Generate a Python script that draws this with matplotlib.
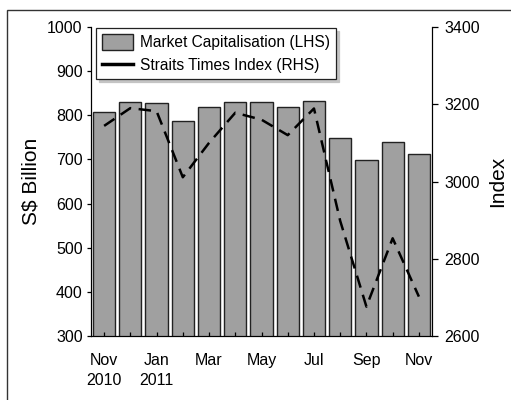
import matplotlib
matplotlib.use("Agg")
import matplotlib.pyplot as plt
from matplotlib.patches import Rectangle
from matplotlib.lines import Line2D
import numpy as np

plt.rcParams['font.family'] = ['Liberation Sans', 'DejaVu Sans']

months = ["Nov", "Dec", "Jan", "Feb", "Mar", "Apr", "May", "Jun", "Jul", "Aug", "Sep", "Oct", "Nov"]
tick_labels = ["Nov\n2010", "", "Jan\n2011", "", "Mar", "", "May", "", "Jul", "", "Sep", "", "Nov"]
market_cap = [807, 829, 827, 786, 818, 831, 829, 819, 833, 749, 699, 740, 712]
sti = [3144, 3190, 3182, 3011, 3100, 3178, 3160, 3120, 3189, 2898, 2676, 2853, 2702]

W, H = 511, 400
fig = plt.figure(figsize=(W / 100, H / 100), dpi=100)

# outer frame
fig.patches.append(Rectangle((7 / W, -0.1), 1.2, (H - 10) / H + 0.1, transform=fig.transFigure,
                             fill=False, edgecolor='#333333', linewidth=1.0))

ax = fig.add_axes([91 / W, (H - 336) / H, (432 - 91) / W, (336 - 27) / H])
x = np.arange(len(months))
bars = ax.bar(x, market_cap, width=0.85, color='#a0a0a0', edgecolor='#222222', linewidth=1.0,
              label='Market Capitalisation (LHS)')
ax.set_xlim(-0.5, len(months) - 0.5)
ax.set_ylim(300, 1000)
ax.set_yticks(np.arange(300, 1001, 100))
ax.set_xticks(x)
ax.set_xticklabels(tick_labels, linespacing=1.4)
ax.tick_params(axis='x', direction='in', length=3, width=0.9, labelsize=11.5, pad=12.5)
ax.tick_params(axis='y', direction='out', length=3, width=0.9, labelsize=11.5, pad=3)
ax.spines['top'].set_visible(False)
ax.set_ylabel('S$ Billion', fontsize=15, labelpad=5)

ax2 = ax.twinx()
line, = ax2.plot(x, sti, color='black', linewidth=1.8, dashes=(5, 3),
                 label='Straits Times Index (RHS)')
ax2.set_ylim(2600, 3400)
ax2.set_yticks(np.arange(2600, 3401, 200))
ax2.tick_params(axis='y', direction='out', length=4, width=0.9, labelsize=11.5, pad=5)
ax2.spines['top'].set_visible(False)
ax2.set_ylabel('Index', fontsize=15, labelpad=6)

h2 = Line2D([], [], color='black', linewidth=2.5)
leg = ax2.legend([bars, h2], ['Market Capitalisation (LHS)', 'Straits Times Index (RHS)'],
                 loc='upper left', bbox_to_anchor=(96 / W, (H - 28) / H),
                 bbox_transform=fig.transFigure, fancybox=False,
                 shadow={'color': '#c4c4c4', 'alpha': 1}, edgecolor='#222222', framealpha=1,
                 fontsize=11.2, handlelength=2.0, handleheight=1.15, borderpad=0.4,
                 labelspacing=0.45, handletextpad=0.4, borderaxespad=0.0)
leg.get_frame().set_linewidth(0.9)

fig.savefig('out.png', dpi=100)
